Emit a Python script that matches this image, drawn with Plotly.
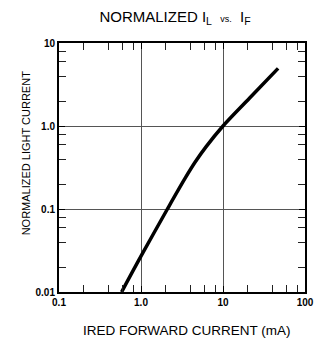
import plotly.graph_objects as go

# Data
ired_current_ma = [0.58, 1.0, 2.1, 3.5, 4.6, 6.2, 10, 21, 47]
normalized_light = [0.01, 0.027, 0.1, 0.24, 0.37, 0.56, 1.0, 2.16, 4.95]

x_tick_vals = [0.1, 1, 10, 100]
x_tick_text = ["0.1", "1.0", "10", "100"]
y_tick_vals = [0.01, 0.1, 1, 10]
y_tick_text = ["0.01", "0.1", "1.0", "10"]
x_minor = [m * d for d in [0.1, 1, 10] for m in [2, 4, 6, 8]]
y_minor = [m * d for d in [0.01, 0.1, 1] for m in [2, 4, 6, 8]]

FONT = "Liberation Sans, Arial, sans-serif"
NARROW = "Liberation Sans Narrow, DejaVu Sans Condensed, Liberation Sans, sans-serif"

fig = go.Figure()
fig.add_trace(go.Scatter(
    x=ired_current_ma, y=normalized_light, mode="lines",
    line=dict(color="black", width=3.5, shape="spline", smoothing=1.0),
    hoverinfo="skip", showlegend=False))

axis_common = dict(
    type="log", showline=True, linecolor="black", linewidth=2, mirror="ticks",
    ticks="inside", ticklen=6, tickcolor="black", tickwidth=1,
    showgrid=True, gridcolor="#555555", gridwidth=0.8,
    zeroline=False,
    tickfont=dict(family=FONT, size=10, color="black", weight="bold"),
)

fig.update_xaxes(
    range=[-1, 2], tickmode="array", tickvals=x_tick_vals, ticktext=x_tick_text,
    minor=dict(tickmode="array", tickvals=x_minor, ticks="inside", ticklen=7,
               tickwidth=1, tickcolor="#222222", showgrid=False),
    **axis_common)
fig.update_yaxes(
    range=[-2, 1], tickmode="array", tickvals=y_tick_vals, ticktext=y_tick_text,
    minor=dict(tickmode="array", tickvals=y_minor, ticks="inside", ticklen=7,
               tickwidth=1, tickcolor="#222222", showgrid=False),
    **axis_common)

# Axis titles placed as annotations to match the reference offsets
fig.add_annotation(text="IRED FORWARD CURRENT (mA)", xref="paper", yref="paper",
                   x=0.522, y=-0.153, xanchor="center", yanchor="middle", showarrow=False,
                   font=dict(family=FONT, size=13.5, color="black"))
fig.add_annotation(text="NORMALIZED LIGHT CURRENT", xref="paper", yref="paper",
                   x=-0.133, y=0.558, xanchor="center", yanchor="middle", showarrow=False,
                   textangle=-90, font=dict(family=FONT, size=11, color="black"))

# The page body has an 8px margin, so the figure is sized to the visible area
fig.update_layout(
    width=317, height=333,
    margin=dict(l=51, r=11, t=35, b=49),
    paper_bgcolor="white", plot_bgcolor="white",
    title=dict(text="NORMALIZED I<sub>L</sub>  <span style='font-size:9px'>vs.</span>  I<sub>F</sub>",
               x=0.527, xanchor="center", y=0.975, yanchor="middle",
               font=dict(family=FONT, size=15, color="black")),
)

fig.write_html("out.html", config={"displayModeBar": False})
